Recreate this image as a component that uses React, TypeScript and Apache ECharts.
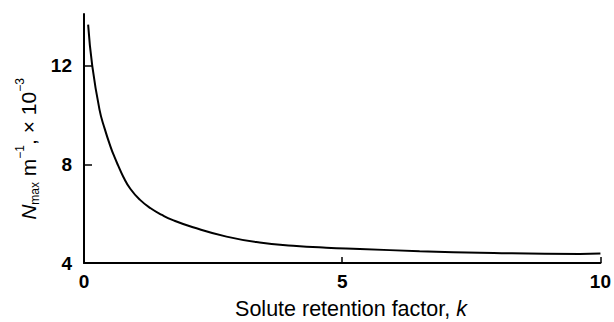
import React, { useEffect, useRef } from "react";
import * as echarts from "echarts";

const kValues = [0.08, 0.16, 0.3, 0.4, 0.52, 0.59, 0.66, 0.76, 0.9, 1.08, 1.29, 1.51, 1.71, 2.11, 2.76, 3.4, 4.05, 4.69, 5.34, 6.5, 7.66, 9.6, 10];
const nMaxValues = [13.67, 12.0, 10.22, 9.45, 8.68, 8.3, 7.96, 7.5, 7.0, 6.57, 6.22, 5.95, 5.75, 5.45, 5.07, 4.83, 4.7, 4.62, 4.57, 4.48, 4.42, 4.37, 4.39];
const xTicks = [0, 5, 10];
const yTicks = [4, 8, 12];

const FONT = "'Liberation Sans', Arial, Helvetica, sans-serif";

export default function App() {
  const ref = useRef<HTMLDivElement>(null);
  useEffect(() => {
    if (!ref.current) return;
    const chart = echarts.init(ref.current, null, { renderer: "svg" });
    const data = kValues.map((k, i) => [k, nMaxValues[i]]);
    chart.setOption({
      animation: false,
      backgroundColor: "#ffffff",
      grid: { left: 84, top: 14, right: 12.5, bottom: 59, containLabel: false },
      xAxis: {
        type: "value",
        min: 0,
        max: 10,
        axisLine: { show: true, lineStyle: { color: "#000", width: 2 } },
        axisTick: { show: true, inside: true, length: 6, lineStyle: { color: "#000", width: 1.5 }, customValues: xTicks },
        axisLabel: { color: "#000", fontSize: 19, fontWeight: "bold", fontFamily: FONT, margin: 9, customValues: xTicks },
        splitLine: { show: false },
      },
      yAxis: {
        type: "value",
        min: 4,
        max: 14.1,
        axisLine: { show: true, lineStyle: { color: "#000", width: 2 } },
        axisTick: { show: true, inside: true, length: 8, lineStyle: { color: "#000", width: 1.5 }, customValues: yTicks },
        axisLabel: { color: "#000", fontSize: 19, fontWeight: "bold", fontFamily: FONT, margin: 12, customValues: yTicks },
        splitLine: { show: false },
      },
      graphic: [
        {
          type: "text",
          x: 28,
          y: 149,
          rotation: Math.PI / 2,
          style: {
            text: "{n|N}{sub|max}{b| m}{sup|−1}{b|, × 10}{sup|−3}",
            align: "center",
            verticalAlign: "middle",
            fill: "#000",
            rich: {
              n: { fontSize: 21, fontStyle: "italic", fontFamily: FONT, fill: "#000", lineHeight: 30, verticalAlign: "middle" },
              b: { fontSize: 21, fontFamily: FONT, fill: "#000", lineHeight: 30, verticalAlign: "middle" },
              sub: { fontSize: 12, fontFamily: FONT, fill: "#000", lineHeight: 30, verticalAlign: "bottom", padding: [0, 0, 2, 0] },
              sup: { fontSize: 12, fontFamily: FONT, fill: "#000", lineHeight: 30, verticalAlign: "top", padding: [1, 0, 0, 0] },
            },
          },
        },
        {
          type: "text",
          x: 351,
          y: 309,
          style: {
            text: "{r|Solute retention factor, }{i|k}",
            align: "center",
            verticalAlign: "middle",
            fill: "#000",
            rich: {
              r: { fontSize: 21.5, fontFamily: FONT, fill: "#000" },
              i: { fontSize: 21.5, fontStyle: "italic", fontFamily: FONT, fill: "#000" },
            },
          },
        },
      ],
      series: [
        {
          type: "line",
          data,
          showSymbol: false,
          smooth: 0.5,
          lineStyle: { color: "#000", width: 2 },
        },
      ],
    });
    return () => chart.dispose();
  }, []);
  return <div ref={ref} style={{ position: "fixed", left: 0, top: 0, width: 614, height: 322, background: "#fff" }} />;
}
